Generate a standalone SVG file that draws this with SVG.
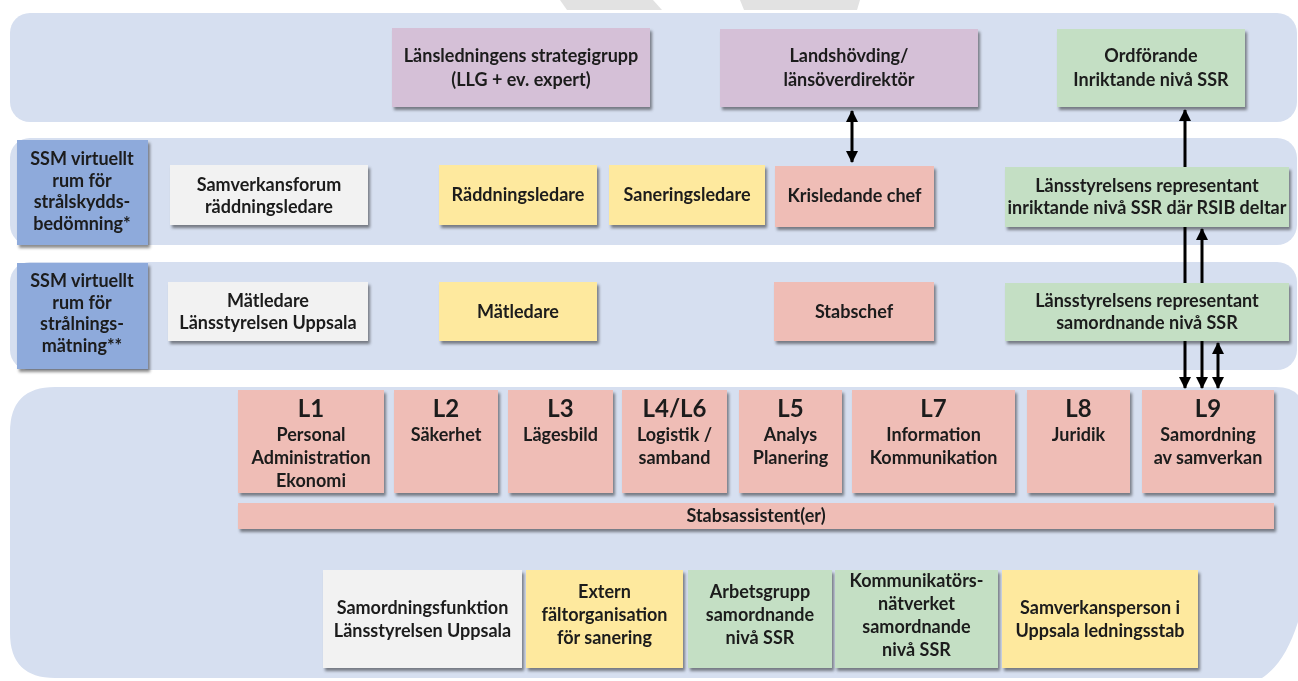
<svg xmlns="http://www.w3.org/2000/svg" width="1298" height="681" viewBox="0 0 1298 681">
<defs>
<style>
.band{fill:#d6dff0}
.box{filter:url(#sh)}
.pu{fill:#d5c0d7}
.gr{fill:#c4dfc4}
.ye{fill:#fee99e}
.pk{fill:#efbdb6}
.wh{fill:#f2f2f2}
.bl{fill:#8eaadb}
text{font-family:Lato,"Open Sans","Liberation Sans",sans-serif;font-weight:bold;font-size:18px;fill:#1b1b1b;text-anchor:middle}
.big{font-size:24px}
.conn{stroke:#000;stroke-width:3;fill:none}
</style>
<filter id="sh" x="-10%" y="-10%" width="125%" height="130%">
<feDropShadow dx="2" dy="3" stdDeviation="1.6" flood-color="#000" flood-opacity="0.45"/>
</filter>
<marker id="ah" viewBox="0 0 12 12" refX="11" refY="6" markerWidth="12" markerHeight="12" markerUnits="userSpaceOnUse" orient="auto-start-reverse">
<path d="M0,0 L12,6 L0,12 Z" fill="#000"/>
</marker>
</defs>
<rect width="1298" height="681" fill="#fff"/>
<polygon points="560,0 653,0 662,10 567,10" fill="#e2e2e2"/>
<polygon points="740,0 860,0 857,10 744,10" fill="#e2e2e2"/>
<g id="bands">
<rect class="band" x="10" y="13" width="1287" height="109" rx="20"/>
<rect class="band" x="10" y="138" width="1287" height="107" rx="20"/>
<rect class="band" x="10" y="262" width="1287" height="108" rx="20"/>
<path class="band" d="M55,387 L1276,387 Q1304,387 1304,415 L1306,585 C1300,630 1283,665 1262,678 L55,678 Q10,678 10,633 L10,432 Q10,387 55,387 Z"/>
</g>
<g id="connectors">
<line class="conn" x1="852" y1="111" x2="852" y2="162" marker-start="url(#ah)" marker-end="url(#ah)"/>
<line class="conn" x1="1185" y1="110" x2="1185" y2="388" marker-start="url(#ah)" marker-end="url(#ah)"/>
<line class="conn" x1="1202" y1="229" x2="1202" y2="388" marker-start="url(#ah)" marker-end="url(#ah)"/>
<line class="conn" x1="1218" y1="343" x2="1218" y2="388" marker-start="url(#ah)" marker-end="url(#ah)"/>
</g>
<g id="llg" class="box"><rect class="pu" x="392" y="28" width="258" height="79"/><text x="521" y="62">Länsledningens strategigrupp</text><text x="521" y="86">(LLG + ev. expert)</text></g>
<g id="landshovding" class="box"><rect class="pu" x="720" y="29" width="258" height="78"/><text x="849" y="62">Landshövding/</text><text x="849" y="86">länsöverdirektör</text></g>
<g id="ordforande" class="box"><rect class="gr" x="1057" y="29" width="188" height="78"/><text x="1151" y="62">Ordförande</text><text x="1151" y="86">Inriktande nivå SSR</text></g>
<g id="ssm1" class="box"><rect class="bl" x="17" y="140" width="131" height="105"/><text x="82" y="165">SSM virtuellt</text><text x="82" y="186.5">rum för</text><text x="82" y="208">strålskydds-</text><text x="82" y="229.5">bedömning*</text></g>
<g id="ssm2" class="box"><rect class="bl" x="17" y="263" width="131" height="106"/><text x="82" y="287">SSM virtuellt</text><text x="82" y="308.5">rum för</text><text x="82" y="330">strålnings-</text><text x="82" y="351.5">mätning**</text></g>
<g id="samverkansforum" class="box"><rect class="wh" x="170" y="165" width="198" height="60"/><text x="269" y="191">Samverkansforum</text><text x="269" y="213">räddningsledare</text></g>
<g id="raddningsledare" class="box"><rect class="ye" x="439" y="165" width="158" height="60"/><text x="518" y="201">Räddningsledare</text></g>
<g id="saneringsledare" class="box"><rect class="ye" x="609" y="165" width="156" height="60"/><text x="687" y="201">Saneringsledare</text></g>
<g id="krisledande" class="box"><rect class="pk" x="775" y="166" width="159" height="61"/><text x="854.5" y="202">Krisledande chef</text></g>
<g id="lst-inriktande" class="box"><rect class="gr" x="1005" y="167" width="284" height="60"/><text x="1147" y="192">Länsstyrelsens representant</text><text x="1147" y="214">inriktande nivå SSR där RSIB deltar</text></g>
<g id="matledare-lst" class="box"><rect class="wh" x="168" y="282" width="200" height="59"/><text x="268" y="307">Mätledare</text><text x="268" y="329">Länsstyrelsen Uppsala</text></g>
<g id="matledare" class="box"><rect class="ye" x="439" y="282" width="158" height="59"/><text x="518" y="318">Mätledare</text></g>
<g id="stabschef" class="box"><rect class="pk" x="774" y="282" width="160" height="59"/><text x="854" y="318">Stabschef</text></g>
<g id="lst-samordnande" class="box"><rect class="gr" x="1005" y="283" width="284" height="58"/><text x="1147" y="307">Länsstyrelsens representant</text><text x="1147" y="329">samordnande nivå SSR</text></g>
<g id="l1" class="box"><rect class="pk" x="238" y="390" width="146" height="103"/><text class="big" x="311" y="417">L1</text><text x="311" y="441">Personal</text><text x="311" y="464">Administration</text><text x="311" y="487">Ekonomi</text></g>
<g id="l2" class="box"><rect class="pk" x="394" y="390" width="104" height="103"/><text class="big" x="446" y="417">L2</text><text x="446" y="441">Säkerhet</text></g>
<g id="l3" class="box"><rect class="pk" x="508" y="390" width="105" height="103"/><text class="big" x="560.5" y="417">L3</text><text x="560.5" y="441">Lägesbild</text></g>
<g id="l4l6" class="box"><rect class="pk" x="622" y="390" width="105" height="103"/><text class="big" x="674.5" y="417">L4/L6</text><text x="674.5" y="441">Logistik /</text><text x="674.5" y="464">samband</text></g>
<g id="l5" class="box"><rect class="pk" x="739" y="390" width="103" height="103"/><text class="big" x="790.5" y="417">L5</text><text x="790.5" y="441">Analys</text><text x="790.5" y="464">Planering</text></g>
<g id="l7" class="box"><rect class="pk" x="852" y="390" width="163" height="103"/><text class="big" x="933.5" y="417">L7</text><text x="933.5" y="441">Information</text><text x="933.5" y="464">Kommunikation</text></g>
<g id="l8" class="box"><rect class="pk" x="1027" y="390" width="103" height="103"/><text class="big" x="1078.5" y="417">L8</text><text x="1078.5" y="441">Juridik</text></g>
<g id="l9" class="box"><rect class="pk" x="1142" y="390" width="132" height="103"/><text class="big" x="1208" y="417">L9</text><text x="1208" y="441">Samordning</text><text x="1208" y="464">av samverkan</text></g>
<g id="stabsassistent" class="box"><rect class="pk" x="238" y="503" width="1036" height="26"/><text x="756" y="522">Stabsassistent(er)</text></g>
<g id="samordningsfunktion" class="box"><rect class="wh" x="323" y="570" width="199" height="98"/><text x="422.5" y="614">Samordningsfunktion</text><text x="422.5" y="637">Länsstyrelsen Uppsala</text></g>
<g id="extern" class="box"><rect class="ye" x="526" y="570" width="157" height="98"/><text x="604.5" y="598">Extern</text><text x="604.5" y="621">fältorganisation</text><text x="604.5" y="644">för sanering</text></g>
<g id="arbetsgrupp" class="box"><rect class="gr" x="688" y="570" width="144" height="98"/><text x="760" y="598">Arbetsgrupp</text><text x="760" y="621">samordnande</text><text x="760" y="644">nivå SSR</text></g>
<g id="kommunikatorsnatverket" class="box"><rect class="gr" x="835" y="570" width="163" height="98"/><text x="916.5" y="587">Kommunikatörs-</text><text x="916.5" y="610">nätverket</text><text x="916.5" y="633">samordnande</text><text x="916.5" y="656">nivå SSR</text></g>
<g id="samverkansperson" class="box"><rect class="ye" x="1002" y="570" width="196" height="98"/><text x="1100" y="614">Samverkansperson i</text><text x="1100" y="637">Uppsala ledningsstab</text></g>
</svg>
